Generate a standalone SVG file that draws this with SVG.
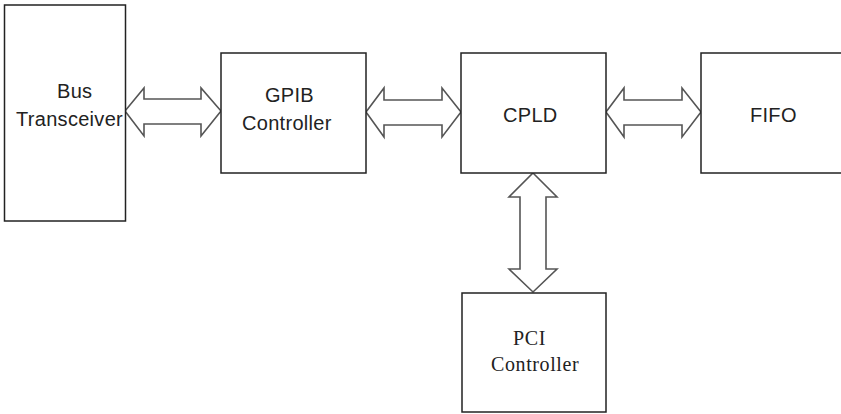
<svg xmlns="http://www.w3.org/2000/svg" width="841" height="414" viewBox="0 0 841 414">
<style>
.box{fill:#fff;stroke:#222;stroke-width:1.5}
.arr{fill:#fff;stroke:#555;stroke-width:1.6;stroke-linejoin:miter}
.s{font-family:"Liberation Sans",Arial,sans-serif;font-size:20px;fill:#222;letter-spacing:0.3px}
.r{font-family:"Liberation Serif","Times New Roman",serif;font-size:20px;fill:#222;letter-spacing:0.6px}
</style>
<rect width="841" height="414" fill="#fff"/>
<g id="connectors">
<polygon class="arr" points="125,111 144,88 144,99 201,99 201,88 221,111 201,136 201,124 144,124 144,136"/>
<polygon class="arr" points="366,112 384,88 384,100 442,100 442,88 461,112 442,137 442,125 384,125 384,137"/>
<polygon class="arr" points="606,112 624,88 624,100 682,100 682,88 701,112 682,137 682,125 624,125 624,137"/>
<polygon class="arr" points="533,173 557,197 546,197 546,269 557,269 533,292 509,269 520,269 520,197 509,197"/>
</g>
<g id="bus">
<rect class="box" x="4.5" y="5" width="121" height="216"/>
<text class="s" x="57" y="98">Bus</text>
<text class="s" x="16" y="126">Transceiver</text>
</g>
<g id="gpib">
<rect class="box" x="221" y="53" width="145" height="120"/>
<text class="s" x="265" y="102">GPIB</text>
<text class="s" x="242" y="130">Controller</text>
</g>
<g id="cpld">
<rect class="box" x="461" y="53" width="145" height="120"/>
<text class="s" x="503" y="122">CPLD</text>
</g>
<g id="fifo">
<rect class="box" x="701" y="53" width="150" height="120"/>
<text class="s" x="750" y="122">FIFO</text>
</g>
<g id="pci">
<rect class="box" x="462" y="293" width="144" height="119"/>
<text class="r" x="513" y="345">PCI</text>
<text class="r" x="491" y="371">Controller</text>
</g>
</svg>
